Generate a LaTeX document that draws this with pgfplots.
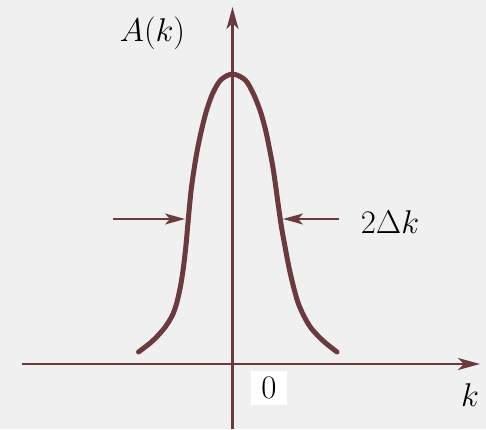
\documentclass[border=0pt]{standalone}
\usepackage{fix-cm}
\usepackage{pgfplots}
\pgfplotsset{compat=1.18}
\usetikzlibrary{arrows.meta}
\definecolor{ink}{HTML}{6B3A3D}
\definecolor{paper}{HTML}{F0F0F0}

% Wave-packet amplitude A(k): a bell-shaped profile centred on k = 0,
% with arrows marking its width 2\Delta k at half height.
\begin{document}
\begin{tikzpicture}
\begin{axis}[
  x=1bp, y=1bp,
  xmin=-210.5, xmax=247.5, ymin=-65, ymax=357,
  axis lines=middle,
  axis line style={draw=ink, line width=2.6bp,
    -{Stealth[length=22bp,width=12bp,inset=6bp]}},
  ticks=none,
  axis on top,
  clip=false,
]
\fill[paper] (axis cs:-232.5,-65) rectangle (axis cs:253.5,364);
\coordinate (bl) at (axis cs:-232.5,-65);
\coordinate (tr) at (axis cs:253.5,364);

% amplitude profile
\addplot[ink, line width=5bp, smooth, tension=0.5, line cap=round, line join=round]
  coordinates {
  (-94,12) (-80,23) (-68,36) (-60,49) (-55.5,62) (-51.6,80) (-48.9,98)
  (-46.6,118) (-44.8,138) (-43,158) (-41,177) (-38.1,197) (-35,215)
  (-31.2,233) (-26.4,252) (-20.1,270) (-11.8,284) (0,290)
  (12.7,284) (21,270) (28.1,252) (33.3,233) (37,215) (40.4,197) (43.3,177)
  (45.9,158) (48.8,138) (52.4,118) (56.2,98) (60.3,80) (65.3,62) (70.9,49)
  (78.5,36) (90.8,23) (104.5,12)
};

% half-height width markers
\addplot[ink, line width=2bp, -{Stealth[length=20bp,width=11bp,inset=5bp]}]
  coordinates {(-119.5,145) (-47.5,145)};
\addplot[ink, line width=2bp, -{Stealth[length=20bp,width=11bp,inset=5bp]}]
  coordinates {(106.5,145) (50.5,145)};

\node[font=\fontsize{33}{35}\selectfont] at (axis cs:-80,331) {$A(k)$};
\node[font=\fontsize{33}{35}\selectfont] at (axis cs:157.5,142) {$2\Delta k$};
\node[font=\fontsize{33}{35}\selectfont, fill=white, inner xsep=10bp, inner ysep=6bp]
  at (axis cs:36.5,-24) {$0$};
\node[font=\fontsize{33}{35}\selectfont] at (axis cs:237.5,-31) {$k$};
\end{axis}
\pgfresetboundingbox
\useasboundingbox (bl) rectangle (tr);
\end{tikzpicture}
\end{document}
